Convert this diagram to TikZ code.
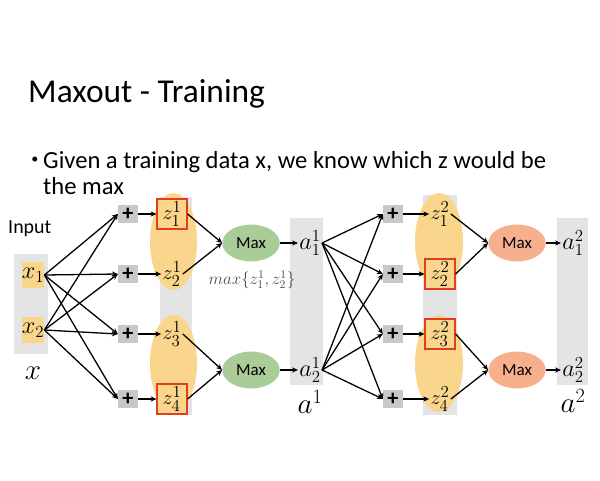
\documentclass[tikz,border=0pt]{standalone}
\usepackage{amsmath}
\usepackage{fontspec}
\setmainfont{Carlito}
\usetikzlibrary{arrows.meta,shapes.geometric}
\definecolor{zorange}{RGB}{250,214,140}
\definecolor{colgray}{RGB}{228,228,228}
\definecolor{plusgray}{RGB}{200,200,200}
\definecolor{maxgreen}{RGB}{170,204,152}
\definecolor{maxsalmon}{RGB}{247,176,142}
\definecolor{pickred}{RGB}{224,62,30}
\newcommand{\fs}[1]{\fontsize{#1}{1.2\dimexpr#1pt\relax}\selectfont}

\begin{document}
\begin{tikzpicture}[x=0.03cm,y=-0.03cm,>={Stealth[length=5pt,width=4.5pt]},
  conn/.style={->,line width=1.1pt},
  plusbox/.style={fill=plusgray,minimum width=17pt,minimum height=15pt,inner sep=0pt,font=\fs{19}\bfseries},
  zplain/.style={inner sep=1pt,font=\fs{19}},
  zpick/.style={draw=pickred,line width=1.6pt,fill=zorange,minimum size=25pt,inner sep=0pt,font=\fs{19}},
  xbox/.style={fill=zorange,minimum width=18pt,minimum height=23pt,inner sep=0pt,font=\fs{20}},
  maxnode/.style={ellipse,minimum width=49pt,minimum height=31.5pt,inner sep=0pt,font=\fs{14.5}}]
  \useasboundingbox (0,0) rectangle (600,480);
  % ---- title and bullet
  \node[anchor=base west,inner sep=0pt,font=\fs{28.5}] (title) at (28,102) {Maxout - Training};
  \node[inner sep=0pt,font=\fs{12}] (dot) at (35,160) {\textbullet};
  \node[anchor=base west,inner sep=0pt,font=\fs{21}] (bul) at (43,168) {Given a training data x, we know which z would be};
  \node[anchor=base west,inner sep=0pt,font=\fs{21}] (bul2) at (43,194) {the max};
  % ---- grey columns and orange groups
  \fill[colgray] (14,254) rectangle (48,354);
  \fill[colgray] (160,197) rectangle (192,415);
  \fill[colgray] (290,218) rectangle (323,385);
  \fill[colgray] (423,195) rectangle (457,415);
  \fill[colgray] (557,218) rectangle (588,385);
  \fill[zorange] (173.5,241.5) ellipse (23.5 and 48.5);
  \fill[zorange] (173.5,363.5) ellipse (23.5 and 48.5);
  \fill[zorange] (439,241.5) ellipse (24 and 48.5);
  \fill[zorange] (439,363.5) ellipse (24 and 48.5);
  % ---- input
  \node[anchor=base west,inner sep=0pt,font=\fs{17}] (inp) at (8,233) {Input};
  \node[xbox] (x1) at (33,275) {$x_1$};
  \node[xbox] (x2) at (33,330) {$x_2$};
  \node[font=\fs{28}] (xl) at (33,373) {$x$};
  % ---- both layers: plus boxes and z
  \foreach \i/\y/\sa/\sb in {1/214/zpick/zplain,2/274/zplain/zpick,3/334/zplain/zpick,4/399/zpick/zplain} {
    \node[plusbox] (pa\i) at (128,\y) {+};
    \node[\sa] (za\i) at (172,\y) {$z^1_{\i}$};
    \node[plusbox] (pb\i) at (393,\y) {+};
    \node[\sb] (zb\i) at (440,\y) {$z^2_{\i}$};
    \draw[conn] (pa\i) -- (za\i);
    \draw[conn] (pb\i) -- (zb\i);
  }
  % ---- max units and outputs
  \node[maxnode,fill=maxgreen] (ma1) at (251,243) {Max};
  \node[maxnode,fill=maxgreen] (ma2) at (251,370) {Max};
  \node[maxnode,fill=maxsalmon] (mb1) at (517,243) {Max};
  \node[maxnode,fill=maxsalmon] (mb2) at (517,370) {Max};
  \node[inner sep=1pt,font=\fs{20}] (a11) at (310,243) {$a^1_1$};
  \node[inner sep=1pt,font=\fs{20}] (a12) at (310,370) {$a^1_2$};
  \node[inner sep=1pt,font=\fs{20}] (a21) at (573,243) {$a^2_1$};
  \node[inner sep=1pt,font=\fs{20}] (a22) at (573,370) {$a^2_2$};
  \node[inner sep=0pt,font=\fs{27}] (al1) at (310,402) {$a^1$};
  \node[inner sep=0pt,font=\fs{27}] (al2) at (573,401) {$a^2$};
  \node[inner sep=0pt,text=black!70,font=\fs{14}] (mx) at (252,280) {$max\{z^1_1,z^1_2\}$};
  % ---- connectors
  \foreach \i in {1,...,4} {
    \draw[conn] (x1.east) -- (pa\i.west);
    \draw[conn] (x2.east) -- (pa\i.west);
    \draw[conn] (a11.east) -- (pb\i.west);
    \draw[conn] (a12.east) -- (pb\i.west);
  }
  \draw[conn] (za1.east) -- (ma1.west);
  \draw[conn] (za2.east) -- (ma1.west);
  \draw[conn] (za3.east) -- (ma2.west);
  \draw[conn] (za4.east) -- (ma2.west);
  \draw[conn] (zb1.east) -- (mb1.west);
  \draw[conn] (zb2.east) -- (mb1.west);
  \draw[conn] (zb3.east) -- (mb2.west);
  \draw[conn] (zb4.east) -- (mb2.west);
  \draw[conn] (ma1) -- (a11);
  \draw[conn] (ma2) -- (a12);
  \draw[conn] (mb1) -- (a21);
  \draw[conn] (mb2) -- (a22);
\end{tikzpicture}
\end{document}
